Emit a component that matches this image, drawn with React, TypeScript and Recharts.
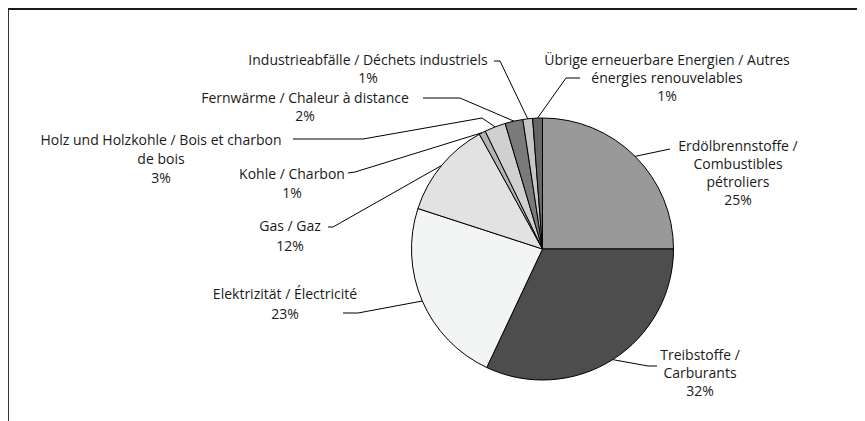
import { Cell, Pie, PieChart } from 'recharts'

const categories = [
  'Erdölbrennstoffe /\nCombustibles\npétroliers',
  'Treibstoffe /\nCarburants',
  'Elektrizität / Électricité',
  'Gas / Gaz',
  'Kohle / Charbon',
  'Holz und Holzkohle / Bois et charbon\nde bois',
  'Fernwärme / Chaleur à distance',
  'Industrieabfälle / Déchets industriels',
  'Übrige erneuerbare Energien / Autres\nénergies renouvelables',
]

const shares = [25, 32, 23, 12, 0.8, 2.6, 2.2, 1.2, 1.2]

const fills = [
  '#999999',
  '#4d4d4d',
  '#f3f4f4',
  '#e2e2e2',
  '#b3b3b3',
  '#d0d0d0',
  '#7a7a7a',
  '#c6c6c6',
  '#666666',
]

const data = categories.map((name, i) => ({ name, value: shares[i] }))

// label placement (chart coords): text centre x, first line y, line step, leader elbows
const labelPos = [
  { x: 730, y: 137, step: 18.3, leader: [[662, 141]] },
  { x: 692, y: 346, step: 18, leader: [[649, 358], [640, 358]] },
  { x: 277, y: 285, step: 20, leader: [[335, 305], [350, 305]] },
  { x: 282, y: 217, step: 20, leader: [[320, 219], [325, 219]] },
  { x: 284, y: 165, step: 19, leader: [[340, 165], [347, 164]] },
  { x: 153, y: 131, step: 19, leader: [[285, 131], [355, 131], [474, 110]] },
  { x: 297, y: 89, step: 18, leader: [[415, 90], [452, 90]] },
  { x: 360, y: 51, step: 18, leader: [[486, 53], [492, 53]] },
  { x: 659, y: 51, step: 18, leader: [[572, 70], [558, 70]] },
]

const RADIAN = Math.PI / 180

function renderLabel(props: any) {
  const { cx, cy, midAngle, outerRadius, index, value } = props
  const pos = labelPos[index]
  const ex = cx + outerRadius * Math.cos(-midAngle * RADIAN)
  const ey = cy + outerRadius * Math.sin(-midAngle * RADIAN)
  const pts = [...pos.leader, [ex, ey]].map((p) => p.join(',')).join(' ')
  const lines = [...categories[index].split('\n'), `${Math.round(value)}%`]
  return (
    <g key={`lbl-${index}`}>
      <polyline points={pts} fill='none' stroke='#000' strokeWidth={1} />
      {lines.map((t, j) => (
        <text
          key={j}
          x={pos.x}
          y={pos.y + j * pos.step}
          textAnchor='middle'
          dominantBaseline='central'
          fill='#1a1a1a'
          fontSize={14}
          fontFamily='"Open Sans", sans-serif'
        >
          {t}
        </text>
      ))}
    </g>
  )
}

export default function App() {
  return (
    <div style={{ position: 'relative', width: 857, height: 413 }}>
      <div
        style={{
          position: 'absolute',
          inset: 0,
          borderTop: '2px solid #1a1a1a',
          borderLeft: '1px solid #333',
        }}
      />
      <PieChart width={857} height={413} style={{ position: 'absolute', left: 0, top: 0 }}>
        <Pie
          data={data}
          dataKey='value'
          cx={529.5}
          cy={236}
          outerRadius={131}
          startAngle={90}
          endAngle={-270}
          stroke='#000'
          strokeWidth={1}
          label={renderLabel}
          labelLine={false}
          isAnimationActive={false}
        >
          {data.map((d, i) => (
            <Cell key={d.name} fill={fills[i]} />
          ))}
        </Pie>
      </PieChart>
    </div>
  )
}
